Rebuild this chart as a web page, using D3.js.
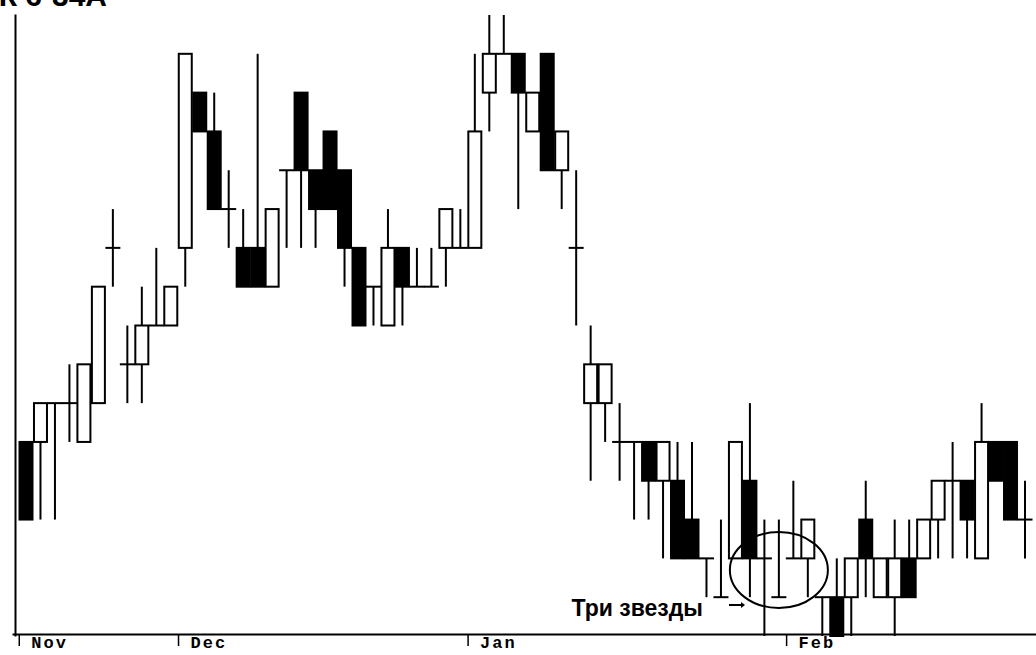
<!DOCTYPE html>
<html><head><meta charset="utf-8">
<script src="https://cdn.jsdelivr.net/npm/d3@7"></script>
<style>body{margin:0;background:#fff} svg{display:block}</style>
</head><body><svg id="c" width="1036" height="655"></svg>
<script>
// Price levels (arbitrary units, one grid step = 1)
const opens  = [5,5,6,6,5,6,10,7,7,8,8,10,14,13,11,10,10,9,12,14,12,13,12,10,9,8,10,9,9,10,10,10,14,15,15,13,15,12,10,6,6,5,5,5,4,4,3,2,1,2,4,2,1,2,2,1,1,1,3,1,1,2,2,3,4,4,2,5,5,3];
const closes = [3,6,6,6,7,9,10,7,8,8,9,15,13,11,11,9,9,11,12,12,11,11,10,8,9,10,9,9,9,11,10,13,15,15,14,14,12,13,10,7,7,5,5,4,5,2,2,2,1,5,2,2,1,2,3,1,0,2,2,2,2,1,3,4,4,3,5,4,3,3];
const highs  = [5,6,6,7,7,9,11,8,9,10,9,15,14,14,12,11,15,11,12,14,12,13,12,10,9,11,10,10,10,11,11,15,16,16,15,14,15,13,12,8,7,6,5,5,5,5,5,2,3,5,6,3,3,4,3,1,2,2,4,2,3,3,3,4,5,4,6,5,5,4];
const lows   = [3,3,3,5,5,6,9,6,6,8,8,9,13,11,10,9,9,9,10,10,10,11,9,8,8,8,8,9,9,9,10,10,13,15,11,13,12,11,8,4,5,4,3,3,2,2,2,1,1,2,1,0,1,2,1,0,0,0,1,1,0,1,2,2,2,2,2,4,3,2];
const monthLabels = ["Nov","Dec","Jan","Feb"];
const monthStarts = [-0.5,10.5,30.5,52.5];
const titleText = "РИСУНОК 6-34А";
const annotationText = "Три звезды";
const starsIndex = 52;   // middle of the three doji stars

const svg = d3.select("#c");
const n = opens.length;
const x = d3.scaleLinear().domain([0, n - 1]).range([26, 1025]);
const y = d3.scaleLinear().domain([0, 16]).range([636, 15]);
const bw = 13;

// axes
const xAxisScale = d3.scaleLinear().domain([x.invert(12), x.invert(1036)]).range([12, 1036]);
const gx = svg.append("g").attr("transform", "translate(0,634)")
  .call(d3.axisBottom(xAxisScale).tickValues(monthStarts)
    .tickFormat((d, i) => monthLabels[i]).tickSize(12).tickSizeOuter(0));
gx.select(".domain").attr("stroke", "#000").attr("stroke-width", 2);
gx.selectAll(".tick line").attr("stroke", "#000").attr("stroke-width", 1.5);
gx.selectAll(".tick text").attr("text-anchor", "start").attr("x", 12).attr("y", 2)
  .attr("dy", "0.71em").attr("fill", "#000")
  .style("font-family", "'Liberation Mono', 'DejaVu Sans Mono', monospace")
  .style("font-weight", "bold").style("font-size", "17px").style("letter-spacing", "2px");

const yAxisScale = d3.scaleLinear().domain([y.invert(636), y.invert(14)]).range([636, 14]);
const gy = svg.append("g").attr("transform", "translate(15,0)")
  .call(d3.axisLeft(yAxisScale).tickValues([]).tickSizeOuter(0));
gy.select(".domain").attr("stroke", "#000").attr("stroke-width", 2);

// candles
const idx = d3.range(n);
const g = svg.append("g");
g.selectAll("line.wick").data(idx).join("line").attr("class", "wick")
  .attr("x1", i => x(i)).attr("x2", i => x(i))
  .attr("y1", i => y(highs[i])).attr("y2", i => y(lows[i]))
  .attr("stroke", "#000").attr("stroke-width", 2);

g.selectAll("rect.body").data(idx.filter(i => opens[i] !== closes[i])).join("rect")
  .attr("class", "body")
  .attr("x", i => x(i) - bw / 2)
  .attr("y", i => y(Math.max(opens[i], closes[i])))
  .attr("width", bw)
  .attr("height", i => Math.abs(y(opens[i]) - y(closes[i])))
  .attr("fill", i => closes[i] < opens[i] ? "#000" : "#fff")
  .attr("stroke", "#000").attr("stroke-width", 2);

g.selectAll("line.doji").data(idx.filter(i => opens[i] === closes[i])).join("line")
  .attr("class", "doji")
  .attr("x1", i => x(i) - bw / 2 - 1).attr("x2", i => x(i) + bw / 2 + 1)
  .attr("y1", i => y(opens[i])).attr("y2", i => y(opens[i]))
  .attr("stroke", "#000").attr("stroke-width", 2);

// annotation
svg.append("ellipse")
  .attr("cx", x(starsIndex)).attr("cy", y(1.7)).attr("rx", 49).attr("ry", 38)
  .attr("fill", "none").attr("stroke", "#000").attr("stroke-width", 2);
svg.append("text").attr("x", 703).attr("y", 616).attr("text-anchor", "end")
  .style("font-family", "'Liberation Sans', Arial, sans-serif")
  .style("font-weight", "bold").style("font-size", "23px").text(annotationText);
svg.append("line").attr("x1", 729).attr("x2", 741).attr("y1", 605).attr("y2", 605)
  .attr("stroke", "#000").attr("stroke-width", 2);
svg.append("path").attr("d", "M741,602 L745,605 L741,608 Z").attr("fill", "#000");

// title (cut off at top, as in the reference)
svg.append("text").attr("x", 107).attr("y", 6).attr("text-anchor", "end")
  .style("font-family", "'Liberation Sans', Arial, sans-serif")
  .style("font-weight", "bold").style("font-size", "30px").text(titleText);
</script>
</body></html>
